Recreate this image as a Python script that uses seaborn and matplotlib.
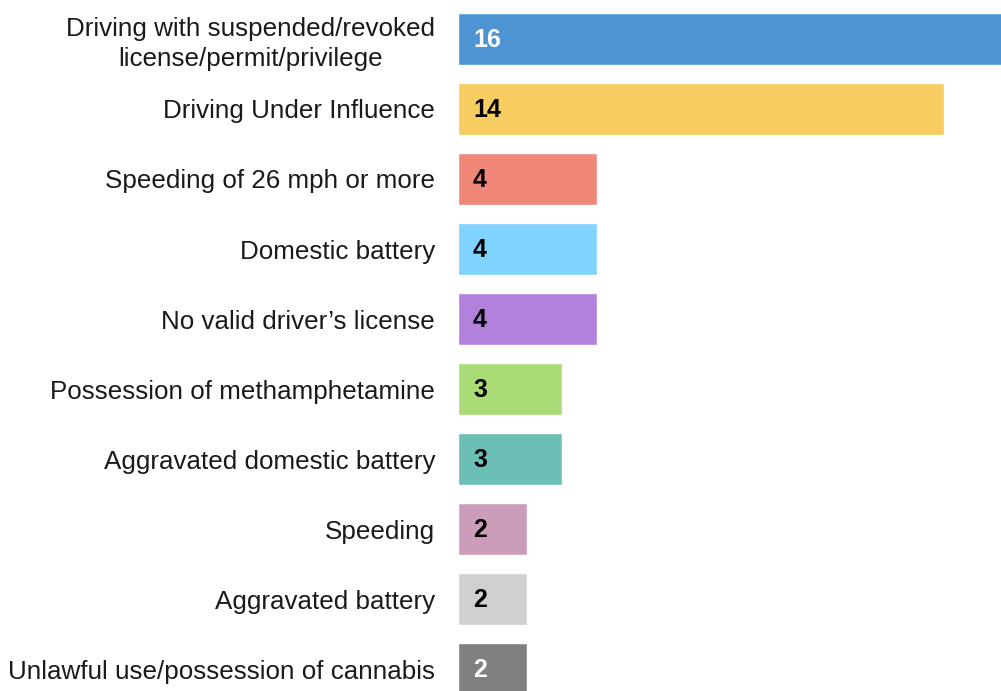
import matplotlib
matplotlib.use("Agg")
import matplotlib.pyplot as plt
import pandas as pd
import seaborn as sns

categories = [
    "Driving with suspended/revoked\nlicense/permit/privilege",
    "Driving Under Influence",
    "Speeding of 26 mph or more",
    "Domestic battery",
    "No valid driver\u2019s license",
    "Possession of methamphetamine",
    "Aggravated domestic battery",
    "Speeding",
    "Aggravated battery",
    "Unlawful use/possession of cannabis",
]
counts = [16, 14, 4, 4, 4, 3, 3, 2, 2, 2]
colors = [
    "#4D94D2", "#F7CD62", "#F08779", "#80D3FD", "#B181DC",
    "#AADB77", "#6BBFB5", "#CB9DBA", "#D0D0D0", "#808080",
]
label_colors = ["white", "black", "black", "black", "black",
                "black", "black", "black", "black", "white"]

sns.set_style("white")
plt.rcParams["font.family"] = ["Liberation Sans", "DejaVu Sans"]

df = pd.DataFrame({"offense": categories, "count": counts})

fig = plt.figure(figsize=(10.01, 6.91), dpi=100)
ax = fig.add_axes([458 / 1001, 0, 1 - 458 / 1001, 1])

sns.barplot(
    data=df, x="count", y="offense", hue="offense",
    palette=colors, legend=False, orient="h", width=0.743,
    saturation=1, ax=ax,
)

for i, (v, c) in enumerate(zip(counts, label_colors)):
    ax.annotate(
        str(v), xy=(0, i), xytext=(10.8, -1), textcoords="offset points",
        ha="left", va="center", fontsize=18, fontweight="bold", color=c,
    )

ax.set_xlim(0, 15.65)
ax.set_ylim(9.314, -0.557)
ax.set_xlabel("")
ax.set_ylabel("")
ax.set_xticks([])
sns.despine(ax=ax, left=True, bottom=True, top=True, right=True)
ax.tick_params(axis="y", length=0, pad=16.5, labelsize=18.7, labelcolor="#1a1a1a")
for t in ax.get_yticklabels():
    t.set_multialignment("center")
    t.set_linespacing(1.3)

fig.savefig("out.png", dpi=100)
